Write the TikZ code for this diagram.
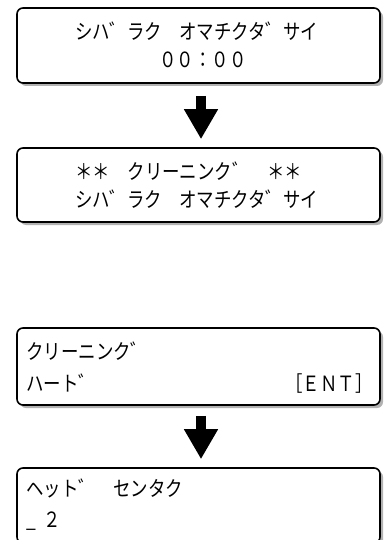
\documentclass[tikz,border=0pt]{standalone}
\usepackage{fontspec}
\newfontfamily\lcdfont{Noto Sans CJK JP}[FakeStretch=0.83]
\usetikzlibrary{arrows.meta,shadows}
\tikzset{
  lcdbox/.style={draw, line width=1.6pt, rounded corners=6pt, fill=white,
    minimum width=363pt, minimum height=75pt, inner sep=0pt,
    drop shadow={shadow xshift=3pt, shadow yshift=-3pt, fill=black!30, opacity=1}},
  lcdtext/.style={inner sep=0pt, font=\lcdfont\fontsize{21}{21}\selectfont},
  downarrow/.style={line width=10pt, -{Triangle[width=32pt,length=30pt]}}
}
\begin{document}
\begin{tikzpicture}[x=1pt,y=-1pt]
\useasboundingbox (0,0) rectangle (390,540);
\clip (0,0) rectangle (390,540);
% display boxes
\node[lcdbox] (b1) at (198.5,45.5) {};
\node[lcdbox, minimum height=74pt] (b2) at (198.5,185) {};
\node[lcdbox, minimum height=77pt] (b3) at (198.5,366.5) {};
\node[lcdbox] (b4) at (198.5,505.5) {};
% display texts
\node[lcdtext, anchor=base west] (b1a) at ([xshift=59pt,yshift=-32pt]b1.north west) {シハ゛ラク　オマチクタ゛サイ};
\node[lcdtext, anchor=base] (b1b) at ([xshift=4.5pt,yshift=-60pt]b1.north) {００：００};
\node[lcdtext, anchor=base west] (b2a) at ([xshift=59pt,yshift=-32pt]b2.north west) {＊＊　クリーニンク゛　＊＊};
\node[lcdtext, anchor=base west] (b2b) at ([xshift=59pt,yshift=-60pt]b2.north west) {シハ゛ラク　オマチクタ゛サイ};
\node[lcdtext, anchor=base west] (b3a) at ([xshift=10pt,yshift=-32pt]b3.north west) {クリーニンク゛};
\node[lcdtext, anchor=base west] (b3b) at ([xshift=10pt,yshift=-64pt]b3.north west) {ハート゛};
\node[lcdtext, anchor=base east] (b3c) at ([xshift=-8pt,yshift=-64pt]b3.north east) {［ＥＮＴ］};
\node[lcdtext, anchor=base west] (b4a) at ([xshift=10pt,yshift=-29pt]b4.north west) {ヘット゛　センタク};
\node[lcdtext, anchor=base west] (b4b) at ([xshift=10pt,yshift=-60pt]b4.north west) {\makebox[17.4pt][l]{\_}２};
% arrows between displays
\draw[downarrow, shorten <=12pt, shorten >=8pt] ([xshift=2.5pt]b1.south) -- ([xshift=2.5pt]b2.north);
\draw[downarrow, shorten <=10pt, shorten >=8pt] ([xshift=2.5pt]b3.south) -- ([xshift=2.5pt]b4.north);
\end{tikzpicture}
\end{document}
